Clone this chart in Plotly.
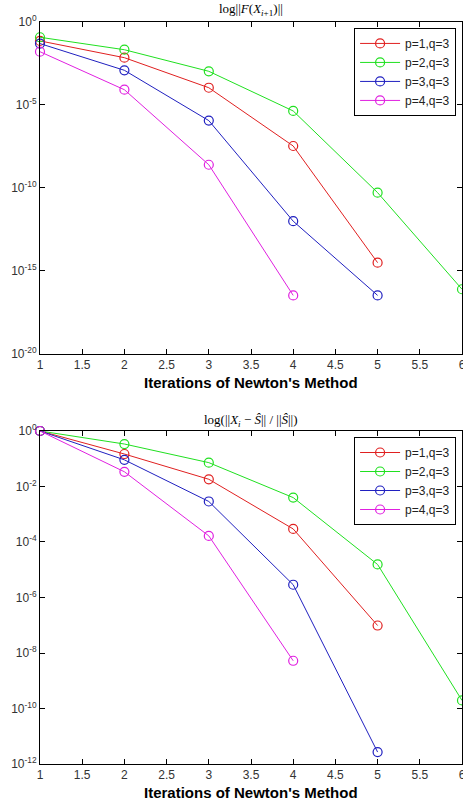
import plotly.graph_objects as go

iters = [1, 2, 3, 4, 5, 6]
labels = ["p=1,q=3", "p=2,q=3", "p=3,q=3", "p=4,q=3"]
colors = ["#e02020", "#20e020", "#2020c0", "#e020e0"]

# Top panel: log10 of ||F(X_{i+1})||
top_p1 = [-1.14, -2.15, -3.96, -7.47, -14.5]
top_p2 = [-0.92, -1.67, -2.97, -5.36, -10.28, -16.1]
top_p3 = [-1.30, -2.91, -5.94, -12.0, -16.47]
top_p4 = [-1.79, -4.08, -8.6, -16.47]

# Bottom panel: log10 of relative error
bot_p1 = [0.0, -0.83, -1.74, -3.53, -7.01]
bot_p2 = [0.0, -0.47, -1.14, -2.40, -4.81, -9.71]
bot_p3 = [0.0, -1.04, -2.54, -5.54, -11.57]
bot_p4 = [0.0, -1.47, -3.78, -8.28]

top_exps = [0, -5, -10, -15, -20]
bot_exps = [0, -2, -4, -6, -8, -10, -12]

top_series = [top_p1, top_p2, top_p3, top_p4]
bot_series = [bot_p1, bot_p2, bot_p3, bot_p4]

fig = go.Figure()

for vals, lab, col in zip(top_series, labels, colors):
    fig.add_trace(go.Scatter(
        x=iters[:len(vals)], y=[10 ** v for v in vals], mode="lines+markers",
        name=lab, line=dict(color=col, width=1),
        marker=dict(symbol="circle-open", size=9, color=col, line=dict(width=1.2)),
        xaxis="x", yaxis="y", legend="legend", cliponaxis=False))

for vals, lab, col in zip(bot_series, labels, colors):
    fig.add_trace(go.Scatter(
        x=iters[:len(vals)], y=[10 ** v for v in vals], mode="lines+markers",
        name=lab, line=dict(color=col, width=1),
        marker=dict(symbol="circle-open", size=9, color=col, line=dict(width=1.2)),
        xaxis="x2", yaxis="y2", legend="legend2", cliponaxis=False))

tickfont = dict(family="Liberation Sans, Arial, sans-serif", size=12, color="#333333")
common_x = dict(range=[1, 6], dtick=0.5, tick0=1, ticks="inside", ticklen=5,
                showline=True, linecolor="black", linewidth=1, mirror="ticks",
                showgrid=False, zeroline=False, tickfont=tickfont, tickcolor="black",
                ticklabeloverflow="allow", automargin=False)
common_y = dict(type="log", ticks="inside", ticklen=5, showline=True, linecolor="black",
                linewidth=1, mirror="ticks", showgrid=False, zeroline=False,
                tickfont=tickfont, tickcolor="black", ticklabeloverflow="allow",
                automargin=False)

legend_common = dict(bgcolor="white", bordercolor="black", borderwidth=1,
                     font=dict(family="Liberation Sans, Arial, sans-serif", size=12, color="#222"),
                     xanchor="right", yanchor="top", tracegroupgap=0, itemwidth=40)

fig.update_layout(
    width=463, height=807, autosize=False,
    paper_bgcolor="white", plot_bgcolor="white",
    margin=dict(l=40, r=1, t=22, b=43),
    xaxis=dict(domain=[0, 1], anchor="y", **common_x),
    yaxis=dict(domain=[0.5526, 1], anchor="x", range=[-20, 0],
               tickvals=[10 ** e for e in top_exps],
               ticktext=["10<sup>%d</sup>" % e for e in top_exps], **common_y),
    xaxis2=dict(domain=[0, 1], anchor="y2", **common_x),
    yaxis2=dict(domain=[0, 0.4488], anchor="x2", range=[-12, 0],
                tickvals=[10 ** e for e in bot_exps],
                ticktext=["10<sup>%d</sup>" % e for e in bot_exps], **common_y),
    legend=dict(x=0.986, y=0.992, **legend_common),
    legend2=dict(x=0.986, y=0.4407, **legend_common),
    showlegend=True,
)

title_font = dict(family="Liberation Serif, DejaVu Serif, serif", size=13, color="black")
xlab_font = dict(family="Liberation Sans, Arial, sans-serif", size=15, color="black")
fig.add_annotation(text="log||<i>F</i>(<i>X</i><sub><i>i</i>+1</sub>)||", x=0.5, y=1.0175,
                   xref="paper", yref="paper", showarrow=False, font=title_font,
                   xanchor="center", yanchor="middle")
fig.add_annotation(text="log(||<i>X</i><sub><i>i</i></sub> \u2212 <i>\u015c</i>|| / ||<i>\u015c</i>||)",
                   x=0.5, y=0.4636, xref="paper", yref="paper", showarrow=False,
                   font=title_font, xanchor="center", yanchor="middle")
fig.add_annotation(text="<b>Iterations of Newton's Method</b>", x=0.5, y=0.5148,
                   xref="paper", yref="paper", showarrow=False, font=xlab_font,
                   xanchor="center", yanchor="middle")
fig.add_annotation(text="<b>Iterations of Newton's Method</b>", x=0.5, y=-0.039,
                   xref="paper", yref="paper", showarrow=False, font=xlab_font,
                   xanchor="center", yanchor="middle")

fig.write_html("out.html", config={"displayModeBar": False},
               post_script="document.body.style.margin='0';document.body.style.overflow='hidden';")
